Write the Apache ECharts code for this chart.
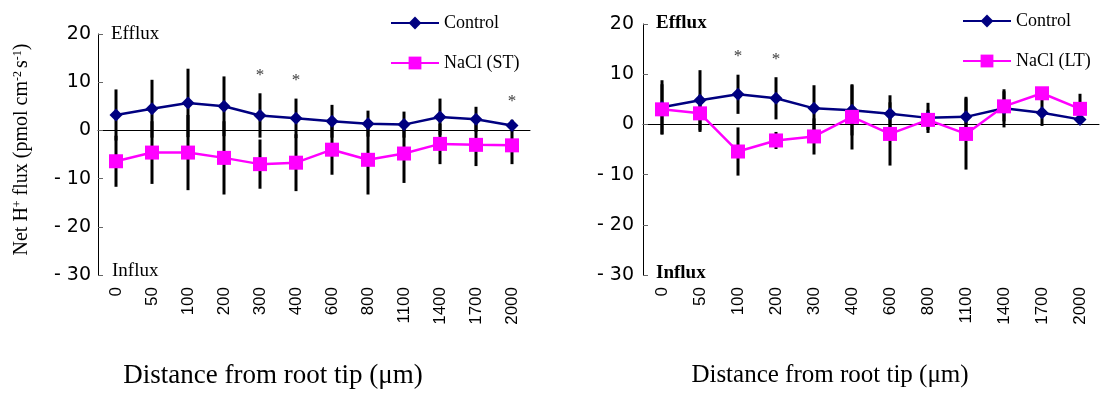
<!DOCTYPE html>
<html>
<head>
<meta charset="utf-8">
<script src="https://cdn.jsdelivr.net/npm/echarts@6/dist/echarts.min.js"></script>
<style>
  html, body { margin: 0; padding: 0; background: #fff; }
  #chart { width: 1101px; height: 403px; }
</style>
</head>
<body>
<div id="chart"></div>
<script>
// distance from root tip (um)
const distances = ['0', '50', '100', '200', '300', '400', '600', '800', '1100', '1400', '1700', '2000'];

// short-term panel
const ctrlST = [3.2, 4.5, 5.7, 5.0, 3.1, 2.5, 1.9, 1.4, 1.2, 2.8, 2.3, 1.0];
const ctrlSTsd = [5.3, 6.0, 7.1, 6.2, 4.6, 4.1, 3.4, 2.7, 2.7, 3.8, 2.6, 1.2];
const naclST = [-6.4, -4.6, -4.6, -5.7, -7.0, -6.7, -4.0, -6.1, -4.8, -2.8, -3.0, -3.1];
const naclSTsd = [5.3, 6.5, 7.8, 7.6, 5.1, 5.9, 5.2, 7.2, 6.1, 4.2, 4.4, 3.9];
const sigST = ['300', '400', '2000'];

// long-term panel
const ctrlLT = [3.4, 4.8, 6.0, 5.2, 3.2, 2.8, 2.1, 1.3, 1.5, 3.2, 2.3, 1.0];
const ctrlLTsd = [5.4, 6.0, 3.9, 4.2, 4.6, 5.0, 3.7, 3.0, 4.0, 3.8, 2.6, 1.0];
const naclLT = [3.0, 2.2, -5.4, -3.2, -2.4, 1.5, -1.9, 0.9, -1.9, 3.6, 6.2, 3.1];
const naclLTsd = [5.0, 3.7, 4.8, 1.7, 3.6, 6.5, 6.3, 2.0, 7.1, 3.0, 1.0, 3.0];
const sigLT = ['100', '200'];

const yTicks = { min: -30, max: 20, interval: 10 };

const SERIF = '"Liberation Serif", "Times New Roman", serif';
const SANS = '"Liberation Sans", Arial, sans-serif';
const NAVY = '#000080';
const PINK = '#FF00FF';

const errRows = (mean, sd) => mean.map((m, i) => [i, m - sd[i], m + sd[i]]);
const starRows = (sig, mean, sd) => sig.map(d => {
  const i = distances.indexOf(d);
  return [i, mean[i] + sd[i]];
});

function errorBar(params, api) {
  const lo = api.coord([api.value(0), api.value(1)]);
  const hi = api.coord([api.value(0), api.value(2)]);
  return {
    type: 'line',
    shape: { x1: lo[0], y1: lo[1], x2: hi[0], y2: hi[1] },
    style: { stroke: '#000', lineWidth: 3 }
  };
}

const xAxes = g => [
  {
    gridIndex: g, type: 'category', data: distances,
    axisLine: { onZero: true, lineStyle: { color: '#000', width: 1 } },
    axisTick: { inside: true, length: 4, lineStyle: { color: '#888' } },
    axisLabel: { show: false },
    splitLine: { show: false }
  },
  {
    gridIndex: g, type: 'category', data: distances, position: 'bottom',
    axisLine: { show: false, onZero: false },
    axisTick: { show: false },
    axisLabel: { interval: 0, rotate: 90, margin: 12, fontFamily: SANS, fontSize: 17, color: '#000' },
    splitLine: { show: false }
  }
];

const yAxis = (g, extra) => Object.assign({
  gridIndex: g, type: 'value', min: yTicks.min, max: yTicks.max, interval: yTicks.interval,
  axisLine: { show: true, lineStyle: { color: '#000' } },
  axisTick: { show: true, inside: true, length: 5, lineStyle: { color: '#666' } },
  splitLine: { show: false },
  axisLabel: {
    margin: 7, fontFamily: '"DejaVu Sans", sans-serif', fontSize: 19, color: '#000',
    formatter: v => (v < 0 ? '- ' + Math.abs(v) : String(v))
  }
}, extra);

const panelSeries = (g, ctrl, ctrlSd, nacl, naclSd, naclName, sig) => [
  {
    type: 'custom', xAxisIndex: g * 2, yAxisIndex: g, renderItem: errorBar,
    encode: { x: 0, y: [1, 2] }, data: errRows(ctrl, ctrlSd), z: 1, silent: true
  },
  {
    type: 'custom', xAxisIndex: g * 2, yAxisIndex: g, renderItem: errorBar,
    encode: { x: 0, y: [1, 2] }, data: errRows(nacl, naclSd), z: 1, silent: true
  },
  {
    name: 'Control', type: 'line', xAxisIndex: g * 2, yAxisIndex: g, data: ctrl,
    symbol: 'diamond', symbolSize: 13,
    lineStyle: { color: NAVY, width: 2.5 }, itemStyle: { color: NAVY }, z: 3
  },
  {
    name: naclName, type: 'line', xAxisIndex: g * 2, yAxisIndex: g, data: nacl,
    symbol: 'rect', symbolSize: 14,
    lineStyle: { color: PINK, width: 2.5 }, itemStyle: { color: PINK }, z: 4
  },
  {
    type: 'scatter', xAxisIndex: g * 2, yAxisIndex: g, data: starRows(sig, ctrl, ctrlSd),
    symbolSize: 1, itemStyle: { color: 'rgba(0,0,0,0)' }, silent: true, z: 5,
    label: { show: true, position: 'top', distance: 9, formatter: '*', fontFamily: SERIF, fontSize: 17, color: '#000' }
  }
];

const legendBase = {
  orient: 'vertical', itemWidth: 48, itemHeight: 16, itemGap: 22, selectedMode: false,
  textStyle: { fontFamily: SERIF, fontSize: 18, color: '#000' }
};

const text = (t, x, y, font, align) => ({
  type: 'text', x, y,
  style: { text: t, font, fill: '#000', align: align || 'left', verticalAlign: 'middle' }
});

const chart = echarts.init(document.getElementById('chart'));
chart.setOption({
  animation: false,
  backgroundColor: '#fff',
  grid: [
    { left: 98, top: 34, width: 432, height: 241 },
    { left: 643, top: 24, width: 456, height: 251 }
  ],
  xAxis: [...xAxes(0), ...xAxes(1)],
  yAxis: [
    yAxis(0, {
      name: '{a|Net H}{s|+}{a| flux (pmol cm}{s|-2 }{a|s}{s|-1}{a|)}',
      nameLocation: 'middle', nameRotate: 90, nameGap: 66,
      nameTextStyle: {
        padding: [0, 0, 0, 10],
        rich: {
          a: { fontFamily: SERIF, fontSize: 20, color: '#000' },
          s: { fontFamily: SERIF, fontSize: 12, color: '#000', verticalAlign: 'top' }
        }
      }
    }),
    yAxis(1, { axisLabel: Object.assign({}, yAxis(1).axisLabel, { margin: 9 }) })
  ],
  legend: [
    Object.assign({ left: 385, top: 9, data: ['Control', 'NaCl (ST)'] }, legendBase),
    Object.assign({ left: 957, top: 7, data: ['Control', 'NaCl (LT)'] }, legendBase)
  ],
  graphic: [
    text('Efflux', 111, 34, '19px ' + SERIF),
    text('Influx', 112, 271, '19px ' + SERIF),
    text('Efflux', 656, 23, 'bold 19px ' + SERIF),
    text('Influx', 656, 273, 'bold 19px ' + SERIF),
    text('Distance from root tip (\u03bcm)', 273, 376, '27px ' + SERIF, 'center'),
    text('Distance from root tip (\u03bcm)', 830, 375, '25px ' + SERIF, 'center')
  ],
  series: [
    ...panelSeries(0, ctrlST, ctrlSTsd, naclST, naclSTsd, 'NaCl (ST)', sigST),
    ...panelSeries(1, ctrlLT, ctrlLTsd, naclLT, naclLTsd, 'NaCl (LT)', sigLT)
  ]
});
</script>
</body>
</html>
